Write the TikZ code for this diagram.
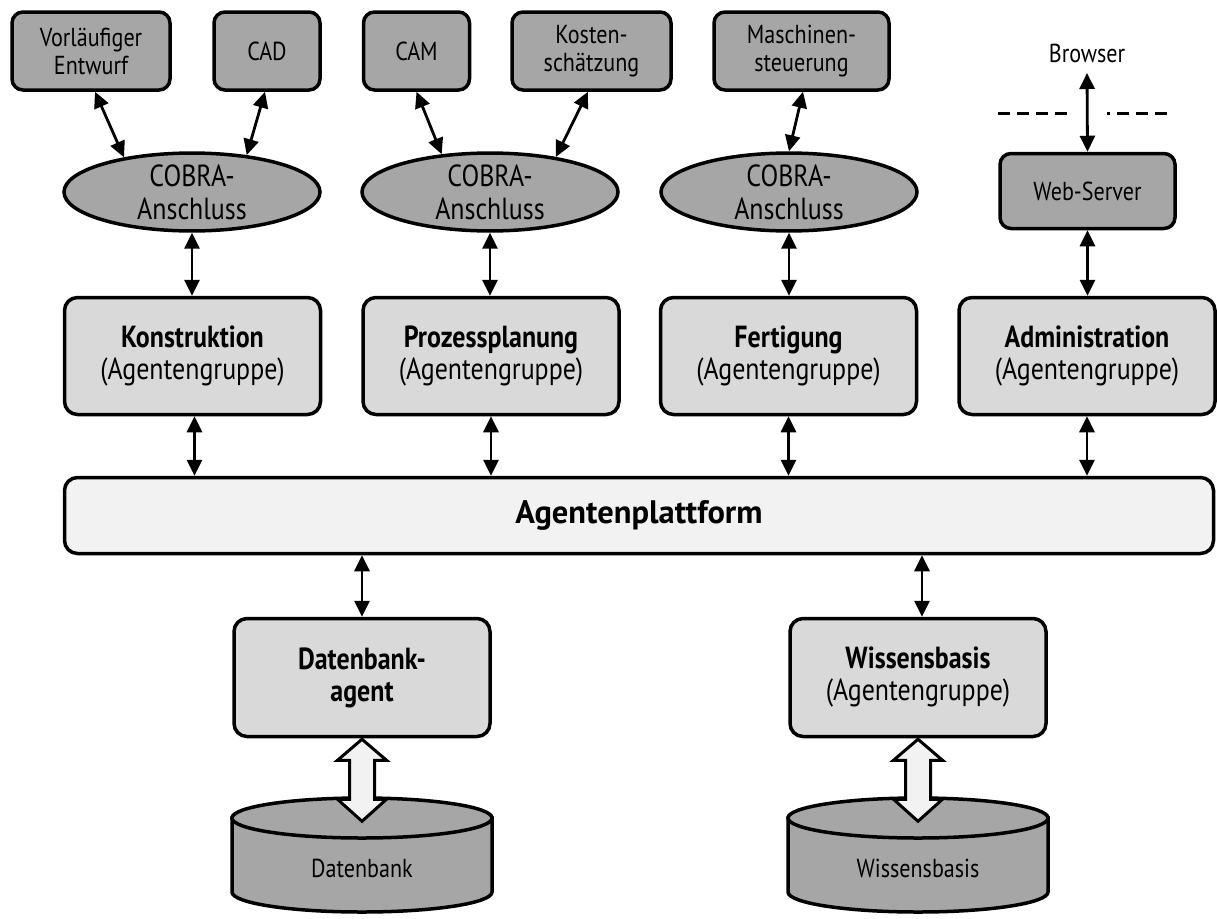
\documentclass[tikz,border=0pt]{standalone}
\usepackage{fontspec}
\setmainfont{PT Sans}[FakeStretch=0.85]
\newfontfamily\platfont{PT Sans}
\usetikzlibrary{arrows.meta,shapes.geometric,calc}
\definecolor{boxdark}{HTML}{A6A6A6}
\definecolor{boxlight}{HTML}{D9D9D9}
\definecolor{platfill}{HTML}{F2F2F2}
\begin{document}
\begin{tikzpicture}[x=1pt,y=-1pt,
  tool/.style={draw,line width=3.5pt,fill=boxdark,rounded corners=11pt,align=center,
    inner sep=0pt,minimum height=78pt,font=\fontsize{26}{28}\selectfont},
  group/.style={draw,line width=3.5pt,fill=boxlight,rounded corners=13pt,align=center,
    inner sep=0pt,minimum width=256pt,minimum height=117pt,font=\fontsize{30.5}{32}\selectfont},
  cobra/.style={draw,line width=3.5pt,fill=boxdark,ellipse,align=center,inner sep=0pt,
    minimum width=256pt,minimum height=77pt,font=\fontsize{30.5}{33}\selectfont},
  cyl/.style={draw,line width=3.5pt,fill=boxdark},
  link/.style={line width=2.8pt,{Triangle[length=16pt,width=15pt]}-{Triangle[length=16pt,width=15pt]}},
  hollow/.style={draw,line width=3pt,fill=platfill,line join=miter},
  plain/.style={inner sep=0pt,font=\fontsize{26}{28}\selectfont}]
\useasboundingbox (0,0) rectangle (1217,918);

% tools on top
\node[tool,minimum width=158pt] (vor) at (91,51) {Vorläufiger\\Entwurf};
\node[tool,minimum width=106pt] (cad) at (267,51) {CAD};
\node[tool,minimum width=106pt] (cam) at (416.5,51) {CAM};
\node[tool,minimum width=159pt] (kost) at (591.5,51) {Kosten-\\schätzung};
\node[tool,minimum width=175pt] (masch) at (801.5,51) {Maschinen-\\steuerung};

% COBRA adapters
\node[cobra] (c1) at (192,192) {COBRA-\\Anschluss};
\node[cobra] (c2) at (490,192) {COBRA-\\Anschluss};
\node[cobra] (c3) at (789,192) {COBRA-\\Anschluss};

% web access
\node[tool,minimum width=175pt,minimum height=75pt] (web) at (1087.5,191) {Web-Server};
\node[plain] (browser) at (1087,53) {Browser};
\coordinate (btip) at (1087,73);
\coordinate (dl1) at (998,113);
\coordinate (dl2) at (1067,113);
\coordinate (dr1) at (1107,113);
\coordinate (dr2) at (1170,113);
\draw[line width=3pt,dash pattern=on 12pt off 7pt] (dl1) -- (dl2);
\draw[line width=3pt,dash pattern=on 12pt off 7pt,dash phase=9pt] (dr1) -- (dr2);

% agent groups
\node[group] (kon) at (192.5,356) {\textbf{Konstruktion}\\(Agentengruppe)};
\node[group] (proz) at (491,356) {\textbf{Prozessplanung}\\(Agentengruppe)};
\node[group] (fert) at (788.5,356) {\textbf{Fertigung}\\(Agentengruppe)};
\node[group] (adm) at (1087,356) {\textbf{Administration}\\(Agentengruppe)};

% platform
\node[draw,line width=3.5pt,fill=platfill,rounded corners=13pt,inner sep=0pt,
  minimum width=1149pt,minimum height=76pt,font=\platfont\fontsize{32.5}{34}\selectfont\bfseries]
  (plat) at (639,515.5) {Agentenplattform};

% lower agents
\node[group,minimum height=118pt] (db) at (362,677.5) {\textbf{Datenbank-}\\\textbf{agent}};
\node[group,minimum height=118pt] (wb) at (918,677.5) {\textbf{Wissensbasis}\\(Agentengruppe)};

% stores
\foreach \cx/\nm in {362/dbs,918/wbs}{
  \filldraw[cyl] (\cx-130,818) -- (\cx-130,892)
     arc[start angle=180,end angle=360,x radius=130pt,y radius=20pt]
     -- (\cx+130,818) -- cycle;
  \filldraw[cyl] (\cx,818) ellipse[x radius=130pt,y radius=20pt];
  \coordinate (\nm) at (\cx,818);
}
\node[plain] (dbstore) at (362,868) {Datenbank};
\node[plain] (wbstore) at (918,868) {Wissensbasis};

% hollow double arrows between agents and stores
\foreach \n in {db,wb}{
  \path[hollow] ($(\n.south)+(0,1)$) -- ++(24.5,21) -- ++(-12,0) -- ++(0,39)
    -- ++(12,0) -- ++(-24.5,22) -- ++(-24.5,-22) -- ++(12,0) -- ++(0,-39)
    -- ++(-12,0) -- cycle;
}

% connectors
\draw[link] ([xshift=4pt]vor.south) -- (c1.153);
\draw[link] ([xshift=-2pt]cad.south) -- (c1.34);
\draw[link] (cam.south) -- (c2.142);
\draw[link] ([xshift=-3.5pt]kost.south) -- (c2.28);
\draw[link] ([xshift=1.5pt]masch.south) -- (c3.north);
\draw[link] (web.north) -- (btip);
\draw[link] (c1.south) -- (c1.south |- kon.north);
\draw[link] (c2.south) -- (c2.south |- proz.north);
\draw[link] (c3.south) -- (c3.south |- fert.north);
\draw[link] (web.south) -- (web.south |- adm.north);
\draw[link] ([xshift=2pt]kon.south) -- ([xshift=2pt]kon.south |- plat.north);
\draw[link] (proz.south) -- (proz.south |- plat.north);
\draw[link] (fert.south) -- (fert.south |- plat.north);
\draw[link] (adm.south) -- (adm.south |- plat.north);
\draw[link] (db.north |- plat.south) -- (db.north);
\draw[link] ([xshift=4pt]wb.north |- plat.south) -- ([xshift=4pt]wb.north);
\end{tikzpicture}
\end{document}
